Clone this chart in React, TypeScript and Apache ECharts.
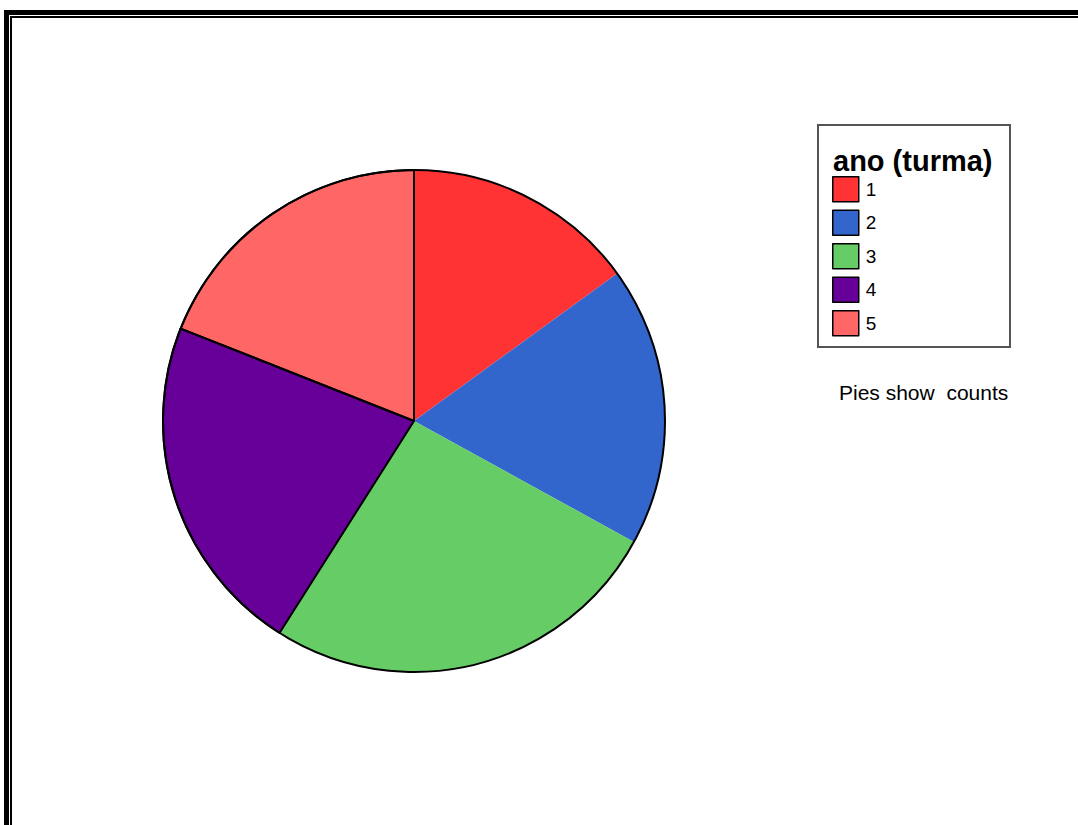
import React, { useEffect, useRef } from "react";
import * as echarts from "echarts";

const categories = ["1", "2", "3", "4", "5"];
const counts = [15, 18, 26, 22, 19];
const colors = ["#FF3333", "#3366CC", "#66CC66", "#660099", "#FF6666"];
const legendTitle = "ano (turma)";
const footnote = "Pies show  counts";
const outlinedCategories = ["4", "5"];

const FONT = "'Liberation Sans', Arial, sans-serif";
const CX = 414;
const CY = 421;
const R = 251;

export default function App() {
  const ref = useRef<HTMLDivElement>(null);
  useEffect(() => {
    if (!ref.current) return;
    const chart = echarts.init(ref.current, undefined, { renderer: "svg" });
    const baseData = categories.map((c, i) => ({
      name: c,
      value: counts[i],
      itemStyle: { color: colors[i] },
    }));
    const outlineData = categories.map((c, i) => ({
      name: c,
      value: counts[i],
      itemStyle: outlinedCategories.includes(c)
        ? { color: "rgba(0,0,0,0)", borderColor: "#000", borderWidth: 2 }
        : { color: "rgba(0,0,0,0)", borderWidth: 0 },
    }));
    chart.setOption({
      animation: false,
      backgroundColor: "#fff",
      textStyle: { fontFamily: FONT },
      legend: {
        orient: "vertical",
        left: 832,
        top: 176,
        padding: 0,
        itemWidth: 26,
        itemHeight: 25,
        itemGap: 7,
        icon: "rect",
        selectedMode: false,
        data: categories.map((c, i) => ({
          name: c,
          itemStyle: { color: colors[i], borderColor: "#000", borderWidth: 1.5 },
        })),
        textStyle: { fontSize: 19, color: "#000", fontFamily: FONT, padding: [0, 0, 0, 2] },
      },
      series: [
        {
          type: "pie",
          center: [CX, CY],
          radius: [0, R],
          startAngle: 90,
          clockwise: true,
          silent: true,
          label: { show: false },
          labelLine: { show: false },
          emphasis: { disabled: true },
          itemStyle: { borderWidth: 0 },
          data: baseData,
        },
        {
          type: "pie",
          center: [CX, CY],
          radius: [0, R],
          startAngle: 90,
          clockwise: true,
          silent: true,
          label: { show: false },
          labelLine: { show: false },
          emphasis: { disabled: true },
          legendHoverLink: false,
          data: outlineData,
          z: 3,
        },
      ],
      graphic: [
        { type: "circle", shape: { cx: CX, cy: CY, r: R }, style: { fill: "none", stroke: "#000", lineWidth: 2 }, z: 10, silent: true },
        { type: "rect", shape: { x: 4, y: 10, width: 5, height: 815 }, style: { fill: "#000" }, silent: true },
        { type: "rect", shape: { x: 4, y: 10, width: 1074, height: 5 }, style: { fill: "#000" }, silent: true },
        { type: "rect", shape: { x: 10, y: 16, width: 2, height: 809 }, style: { fill: "#000" }, silent: true },
        { type: "rect", shape: { x: 10, y: 16, width: 1068, height: 2 }, style: { fill: "#000" }, silent: true },
        { type: "rect", shape: { x: 818, y: 125, width: 192, height: 222 }, style: { fill: "#fff", stroke: "#555", lineWidth: 2 }, z: -1, silent: true },
        {
          type: "text",
          x: 833,
          y: 161,
          style: { text: legendTitle, font: `bold 29px ${FONT}`, fill: "#000", textVerticalAlign: "middle" },
          silent: true,
        },
        {
          type: "text",
          x: 839,
          y: 392,
          style: { text: footnote, font: `21px ${FONT}`, fill: "#000", textVerticalAlign: "middle" },
          silent: true,
        },
      ],
    });
    return () => chart.dispose();
  }, []);
  return (
    <div
      ref={ref}
      style={{ position: "absolute", left: 0, top: 0, width: 1078, height: 825 }}
    />
  );
}
